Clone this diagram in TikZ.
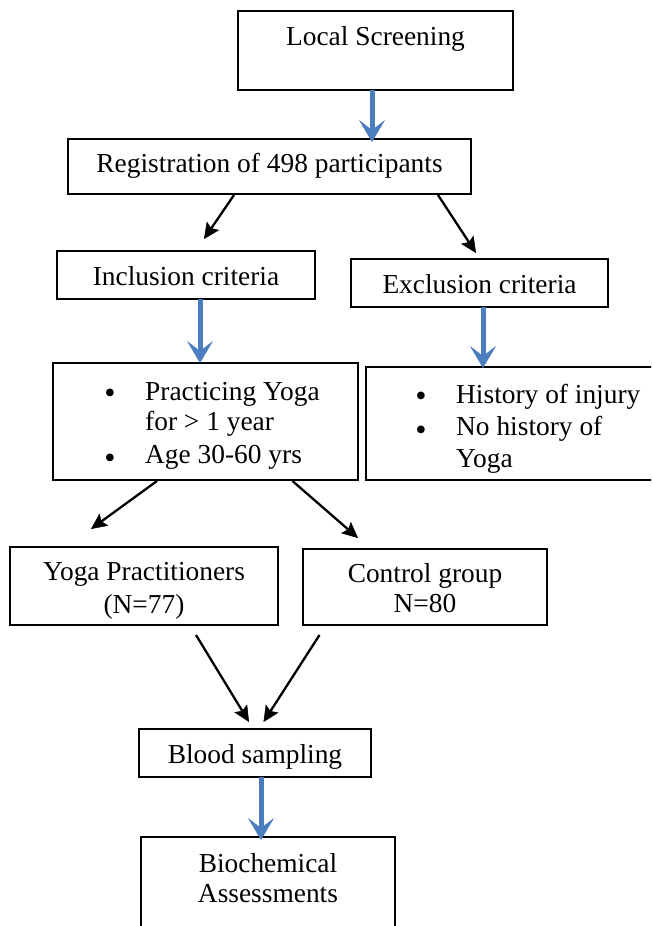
\documentclass[tikz,border=0pt]{standalone}
\usepackage{fontspec}
\setmainfont{Liberation Serif}
\usetikzlibrary{arrows.meta,calc}
\definecolor{arrowblue}{RGB}{74,126,190}
\begin{document}
\begin{tikzpicture}[x=1pt,y=-1pt,
  box/.style={draw, line width=2pt, inner sep=0pt, outer sep=0pt, anchor=north west},
  txt/.style={anchor=base, inner sep=0pt, font=\fontsize{27.4}{32}\selectfont},
  txtl/.style={txt, anchor=base west},
  bul/.style={anchor=base, inner sep=0pt, font=\fontsize{32}{34}\selectfont},
  blk/.style={-{Stealth[length=16pt,width=15pt,inset=3pt,line width=0.5pt]}, line width=2.3pt, draw=black},
  blu/.style={-{Stealth[length=22pt,width=26pt,inset=10pt,line width=0.5pt]}, line width=5pt, draw=arrowblue}]
\useasboundingbox (0,0) rectangle (651,926);
\clip (0,0) rectangle (651,926);
\fill[white] (0,0) rectangle (651,926);

% boxes
\node[box, minimum width=275pt, minimum height=79pt] (ls) at (238,11) {};
\node[box, minimum width=403pt, minimum height=55pt] (reg) at (68,139) {};
\node[box, minimum width=258pt, minimum height=48pt] (incl) at (57,251) {};
\node[box, minimum width=257pt, minimum height=48pt] (excl) at (351,259) {};
\node[box, minimum width=305pt, minimum height=117pt] (lb) at (53,363) {};
\node[box, minimum width=320pt, minimum height=113pt] (rb) at (366,367) {};
\node[box, minimum width=268pt, minimum height=78pt] (yp) at (10,547) {};
\node[box, minimum width=244pt, minimum height=76pt] (cg) at (303,549) {};
\node[box, minimum width=232pt, minimum height=48pt] (bs) at (139,729) {};
\node[box, minimum width=254pt, minimum height=130pt] (ba) at (141,837) {};

% texts
\node[txt] (tls) at (375.5,45) {Local Screening};
\node[txt] (treg) at (269.5,172.7) {Registration of 498 participants};
\node[txt] (tinc) at (186,285) {Inclusion criteria};
\node[txt] (texc) at (479.5,293) {Exclusion criteria};
\node[bul] (b1) at (110,403.3) {•};
\node[txtl] (l1) at (145,400) {Practicing Yoga};
\node[txtl] (l2) at (145,430) {for > 1 year};
\node[bul] (b2) at (110,468) {•};
\node[txtl] (l3) at (145,463) {Age 30-60 yrs};
\node[bul] (b3) at (421,406.6) {•};
\node[txtl] (r1) at (456,403) {History of injury};
\node[bul] (b4) at (421,440) {•};
\node[txtl] (r2) at (456,435) {No history of};
\node[txtl] (r3) at (456,467) {Yoga};
\node[txt] (typ1) at (144,580) {Yoga Practitioners};
\node[txt] (typ2) at (144,613) {(N=77)};
\node[txt] (tcg1) at (425,582) {Control group};
\node[txt] (tcg2) at (425,612) {N=80};
\node[txt] (tbs) at (255,763) {Blood sampling};
\node[txt] (tba1) at (268,872) {Biochemical};
\node[txt] (tba2) at (268,902) {Assessments};

% blue arrows
\draw[blu] ($(ls.south west)+(134,0)$) -- ($(reg.north west)+(304,3)$);
\draw[blu] ($(incl.south west)+(143,0)$) -- ($(lb.north west)+(147,0)$);
\draw[blu] ($(excl.south west)+(132,0)$) -- ($(rb.north west)+(117,1)$);
\draw[blu] ($(bs.south west)+(122,0)$) -- ($(ba.north west)+(120,3)$);

% black arrows
\draw[blk] ($(reg.south west)+(166,1)$) -- ($(incl.north west)+(147,-12)$);
\draw[blk] ($(reg.south west)+(370,1)$) -- ($(excl.north west)+(125,-6)$);
\draw[blk] ($(lb.south west)+(104,1)$) -- ($(yp.north west)+(81,-18)$);
\draw[blk] ($(lb.south west)+(239.5,1)$) -- ($(cg.north west)+(55,-11)$);
\draw[blk] ($(yp.south west)+(186,10)$) -- ($(bs.north west)+(110,-7)$);
\draw[blk] ($(cg.south west)+(16.5,10)$) -- ($(bs.north west)+(124.5,-7)$);
\end{tikzpicture}
\end{document}
